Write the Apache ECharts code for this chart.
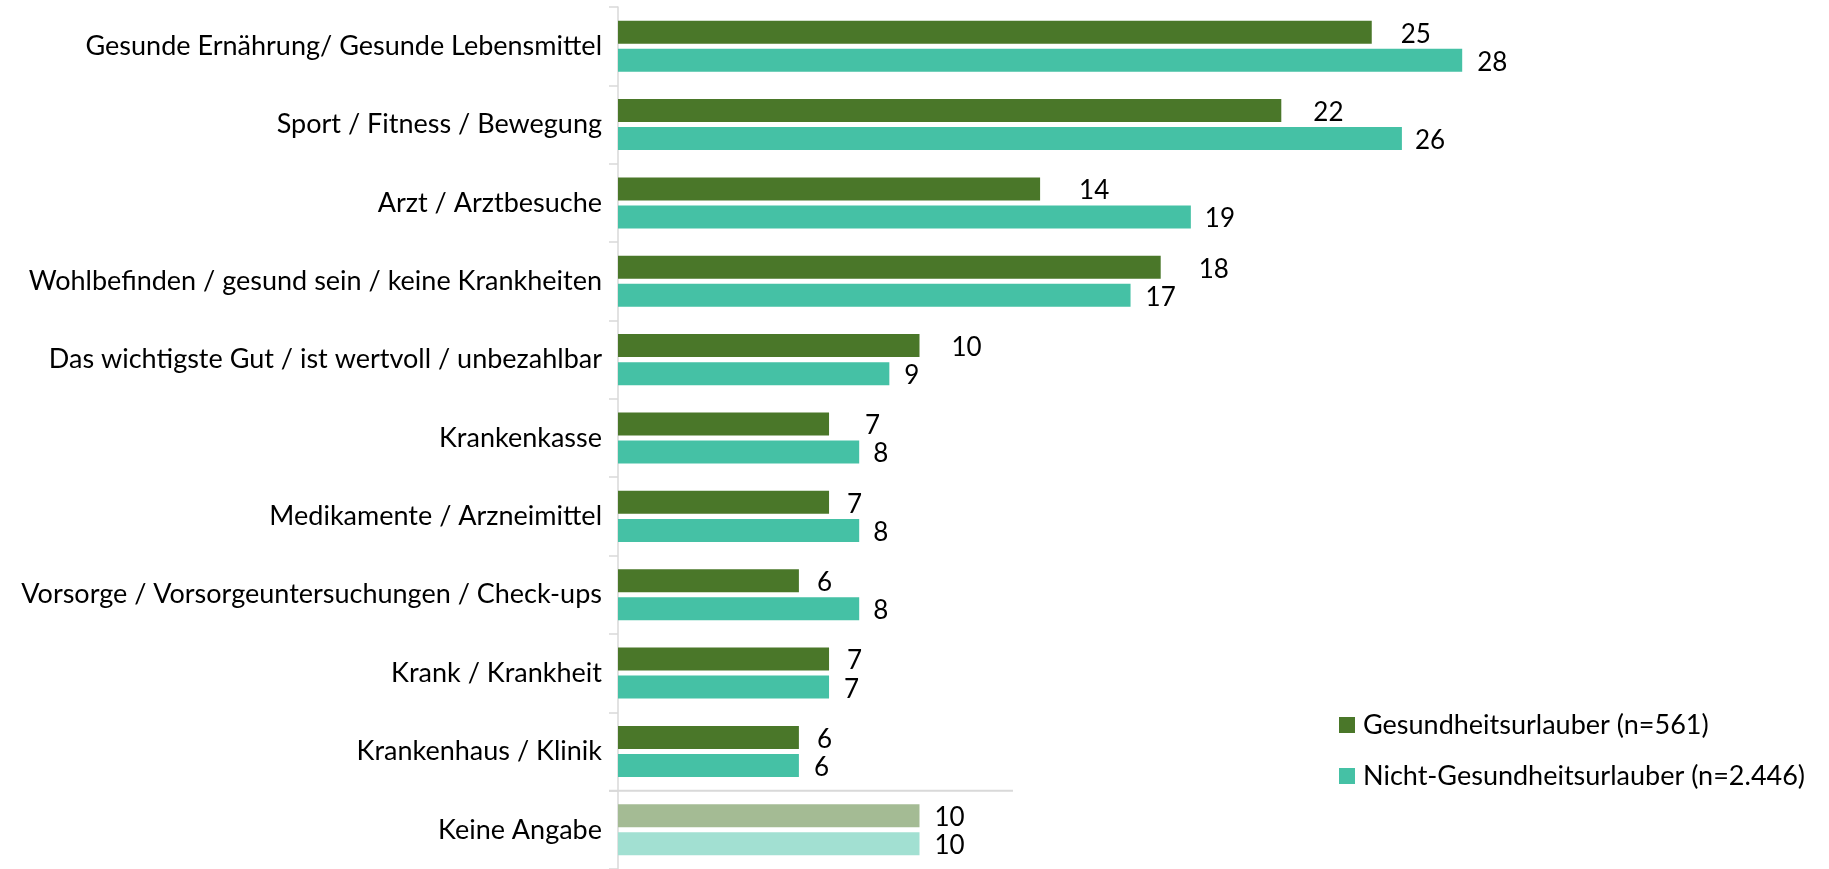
<!DOCTYPE html>
<html>
<head>
<meta charset="utf-8">
<script src="https://cdn.jsdelivr.net/npm/echarts@6/dist/echarts.min.js"></script>
<style>
html,body{margin:0;padding:0;background:#fff;}
#chart{width:1829px;height:869px;}
</style>
</head>
<body>
<div id="chart"></div>
<script>
// ---- data ----
const categories = [
  'Gesunde Ernährung/ Gesunde Lebensmittel',
  'Sport / Fitness / Bewegung',
  'Arzt / Arztbesuche',
  'Wohlbefinden / gesund sein / keine Krankheiten',
  'Das wichtigste Gut / ist wertvoll / unbezahlbar',
  'Krankenkasse',
  'Medikamente / Arzneimittel',
  'Vorsorge / Vorsorgeuntersuchungen / Check-ups',
  'Krank / Krankheit',
  'Krankenhaus / Klinik',
  'Keine Angabe'
];
const gesundheitsurlauber = [25, 22, 14, 18, 10, 7, 7, 6, 7, 6, 10];
const nichtGesundheitsurlauber = [28, 26, 19, 17, 9, 8, 8, 8, 7, 6, 10];
const seriesNames = ['Gesundheitsurlauber (n=561)', 'Nicht-Gesundheitsurlauber (n=2.446)'];

// ---- style ----
const FONT = 'Lato';
const darkGreen = '#4A7729', teal = '#45C1A5';
const lightGreen = '#A4BB94', lightTeal = '#A2E0D2';
const greenLabelDist = [29, 32, 39, 38, 32, 36, 18, 18, 18, 18, 15];
const tealLabelDist = [15, 13, 14, 15, 15, 14, 14, 14, 15, 15, 15];

function buildData(vals, dists, lightColor) {
  return vals.map((v, i) => {
    const item = { value: v, label: { distance: dists[i] } };
    if (i === vals.length - 1) item.itemStyle = { color: lightColor };
    return item;
  });
}

const chart = echarts.init(document.getElementById('chart'), null, { renderer: 'canvas' });
const option = {
  animation: false,
  backgroundColor: '#fff',
  textStyle: { fontFamily: FONT },
  grid: { left: 618, top: 7, width: 904.5, height: 864.6, containLabel: false },
  xAxis: { type: 'value', min: 0, max: 30, show: false },
  yAxis: {
    type: 'category',
    data: categories,
    inverse: true,
    axisLine: { show: true, lineStyle: { color: '#D9D9D9', width: 1.5 } },
    axisTick: { show: true, length: 9, lineStyle: { color: '#D9D9D9', width: 1.5 } },
    axisLabel: { fontFamily: FONT, fontSize: 27, color: '#000', margin: 16 },
    splitLine: { show: false }
  },
  legend: {
    orient: 'vertical',
    left: 1334,
    top: 705,
    icon: 'rect',
    itemWidth: 16,
    itemHeight: 16,
    itemGap: 21,
    textStyle: { fontFamily: FONT, fontSize: 27, color: '#000', lineHeight: 30, padding: [0, 0, 0, 3] },
    data: seriesNames
  },
  series: [
    {
      name: seriesNames[0],
      type: 'bar',
      barWidth: 23,
      barGap: '22%',
      itemStyle: { color: darkGreen },
      label: { show: true, position: 'right', fontFamily: FONT, fontSize: 26, color: '#000', offset: [0, 2] },
      data: buildData(gesundheitsurlauber, greenLabelDist, lightGreen)
    },
    {
      name: seriesNames[1],
      type: 'bar',
      barWidth: 23,
      barGap: '22%',
      itemStyle: { color: teal },
      label: { show: true, position: 'right', fontFamily: FONT, fontSize: 26, color: '#000', offset: [0, 2] },
      data: buildData(nichtGesundheitsurlauber, tealLabelDist, lightTeal)
    }
  ]
};
chart.setOption(option);

// separator line between the last two categories, positioned via the axis scales
const yA = chart.convertToPixel({ yAxisIndex: 0 }, categories[categories.length - 2]);
const yB = chart.convertToPixel({ yAxisIndex: 0 }, categories[categories.length - 1]);
const x0 = chart.convertToPixel({ xAxisIndex: 0 }, 0);
const x1 = chart.convertToPixel({ xAxisIndex: 0 }, 13.1);
const ySep = (yA + yB) / 2;
chart.setOption({
  graphic: [{
    type: 'line',
    shape: { x1: x0 - 9, y1: ySep, x2: x1, y2: ySep },
    style: { stroke: '#D9D9D9', lineWidth: 2 }
  }]
});
</script>
</body>
</html>
